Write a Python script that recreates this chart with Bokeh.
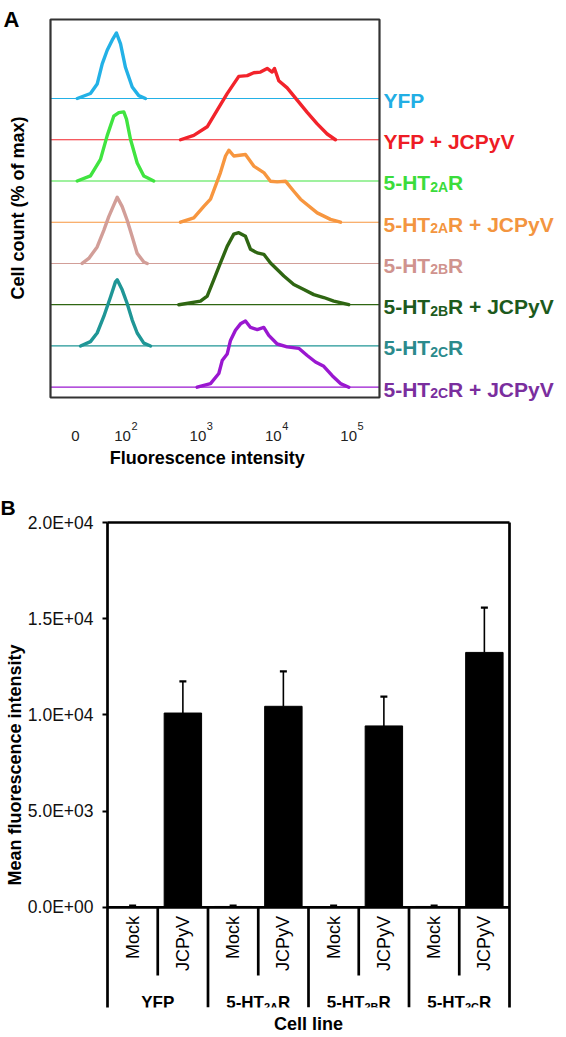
from math import pi
from bokeh.plotting import figure
from bokeh.models import (Range1d, FixedTicker, LinearAxis, Span, Title,
                          ColumnDataSource, Whisker, TeeHead)
from bokeh.embed import file_html
from bokeh.resources import INLINE
from bokeh.core.properties import value

FONT = "Liberation Sans"

# ---------------- Panel A data (x: logicle display position in decades, y: % of max) -------------
yfp_x = [1.357, 1.533, 1.622, 1.689, 1.755, 1.821, 1.878, 1.932, 1.998, 2.087, 2.174, 2.263]
yfp_pct = [0, 7, 20, 48, 67, 81, 91, 76, 43, 16, 4, 0]

yfp_jc_x = [2.728, 2.904, 3.082, 3.215, 3.347, 3.501, 3.613, 3.700, 3.789, 3.878, 3.944, 3.975,
            4.032, 4.143, 4.276, 4.409, 4.542, 4.674, 4.784]
yfp_jc_pct = [0, 6, 18, 41, 64, 88, 89, 93, 94, 99, 94, 99, 82, 72, 55, 38, 22, 8, 0]

ht2a_x = [1.357, 1.533, 1.666, 1.755, 1.842, 1.909, 1.975, 2.011, 2.064, 2.153, 2.241, 2.373]
ht2a_pct = [0, 7, 30, 63, 90, 95, 96, 86, 58, 25, 7, 0]

ht2a_jc_x = [2.728, 2.904, 3.037, 3.126, 3.258, 3.325, 3.369, 3.435, 3.590, 3.700, 3.833, 3.922,
             4.011, 4.121, 4.231, 4.320, 4.542, 4.718, 4.851]
ht2a_jc_pct = [0, 6, 22, 32, 69, 92, 100, 92, 94, 78, 69, 57, 56, 57, 43, 32, 13, 4, 0]

ht2b_x = [1.423, 1.511, 1.622, 1.710, 1.776, 1.842, 1.888, 1.954, 2.020, 2.087, 2.153, 2.241, 2.286]
ht2b_pct = [0, 7, 23, 46, 65, 81, 92, 79, 60, 37, 14, 2, 0]

ht2b_jc_x = [2.705, 2.993, 3.082, 3.170, 3.258, 3.347, 3.435, 3.501, 3.590, 3.657, 3.746, 3.833,
             3.922, 4.011, 4.099, 4.231, 4.364, 4.497, 4.629, 4.762, 4.961]
ht2b_jc_pct = [0, 5, 12, 35, 58, 81, 98, 100, 95, 77, 72, 70, 58, 49, 40, 28, 21, 14, 10, 5, 0]

ht2c_x = [1.401, 1.533, 1.622, 1.710, 1.799, 1.865, 1.888, 1.954, 2.020, 2.087, 2.153, 2.241, 2.330]
ht2c_pct = [0, 6, 18, 41, 68, 89, 92, 78, 59, 36, 18, 4, 0]

ht2c_jc_x = [2.949, 3.126, 3.236, 3.281, 3.347, 3.391, 3.457, 3.524, 3.590, 3.657, 3.746, 3.833,
             3.899, 4.011, 4.143, 4.297, 4.409, 4.519, 4.629, 4.741, 4.851, 4.961]
ht2c_jc_pct = [0, 5, 19, 37, 46, 65, 79, 88, 92, 83, 80, 83, 72, 60, 56, 54, 44, 35, 29, 16, 5, 0]

hist_x = [yfp_x, yfp_jc_x, ht2a_x, ht2a_jc_x, ht2b_x, ht2b_jc_x, ht2c_x, ht2c_jc_x]
hist_pct = [yfp_pct, yfp_jc_pct, ht2a_pct, ht2a_jc_pct, ht2b_pct, ht2b_jc_pct, ht2c_pct, ht2c_jc_pct]

# label parts: (text, is_subscript)
series_labels = [
    [("YFP", False)],
    [("YFP + JCPyV", False)],
    [("5-HT", False), ("2A", True), ("R", False)],
    [("5-HT", False), ("2A", True), ("R + JCPyV", False)],
    [("5-HT", False), ("2B", True), ("R", False)],
    [("5-HT", False), ("2B", True), ("R + JCPyV", False)],
    [("5-HT", False), ("2C", True), ("R", False)],
    [("5-HT", False), ("2C", True), ("R + JCPyV", False)],
]
line_colors = ["#23B1E6", "#F2232B", "#40E440", "#F7963F", "#D29E98", "#2F6612", "#1F9696", "#9A17D0"]
label_colors = ["#22AEE4", "#EE1C25", "#3BDC3B", "#F39540", "#D0938E", "#1D5A1D", "#2B8A8C", "#7A2E9E"]

# x tick positions and labels: (base text, superscript)
xtick_pos = [1.334, 2, 3, 4, 5]
xtick_base = ["0", "10", "10", "10", "10"]
xtick_sup = ["", "2", "3", "4", "5"]

# ---------------- Panel B data ----------------
cell_lines = ["YFP", "5-HT2AR", "5-HT2BR", "5-HT2CR"]
cell_line_parts = [
    [("YFP", False)],
    [("5-HT", False), ("2A", True), ("R", False)],
    [("5-HT", False), ("2B", True), ("R", False)],
    [("5-HT", False), ("2C", True), ("R", False)],
]
treatments = ["Mock", "JCPyV"]
mock_mean = [40, 50, 40, 50]
mock_err = [50, 50, 50, 50]
jcpyv_mean = [10100, 10450, 9430, 13250]
jcpyv_err = [1640, 1810, 1520, 2330]
y_ticks = [0, 5000, 10000, 15000, 20000]
y_tick_labels = ["0.0E+00", "5.0E+03", "1.0E+04", "1.5E+04", "2.0E+04"]

# Arial/Liberation Sans Bold advance widths (em)
BOLD_W = {'5': .556, '-': .333, 'H': .722, 'T': .611, '2': .556, 'A': .722, 'B': .722,
          'C': .722, 'R': .722, ' ': .278, '+': .584, 'J': .556, 'P': .667, 'y': .556,
          'V': .667, 'Y': .667, 'F': .611}


def tw(s, size):
    return sum(BOLD_W.get(c, 0.6) for c in s) * size


# ================= Panel A (one frame covering the whole panel) =================
W = 566
HA = 478
PXX = 75.36                     # px per decade
X0 = 0.3392                     # display value at left edge
STEP = 57.28                    # vertical offset between stacked histograms (% units)
PXY = 0.72                      # px per % unit
Y_TOP = 386.7 / PXY             # % value at top edge
XB0, XB1 = 1.0027, 5.3684       # histogram box (display units)
YB_LO, YB_HI = -14.3, 510.7     # histogram box (% units)

pa = figure(width=W, height=HA,
            x_range=Range1d(X0, X0 + W / PXX), y_range=Range1d(Y_TOP - HA / PXY, Y_TOP),
            output_backend="svg", toolbar_location=None, title=None,
            x_axis_location=None, y_axis_location=None,
            min_border_left=0, min_border_right=0, min_border_top=0, min_border_bottom=0)
pa.grid.visible = False
pa.outline_line_color = None

n = len(hist_x)
for i in range(n):
    off = (n - 1 - i) * STEP
    pa.segment(x0=[XB0], y0=[off], x1=[XB1], y1=[off], line_color=line_colors[i], line_width=1.2)
    pa.line(hist_x[i], [v + off for v in hist_pct[i]], line_color=line_colors[i],
            line_width=3.4, line_join="round", line_cap="round")
    xpx = 4.0
    for txt, sub in series_labels[i]:
        size = 14 if sub else 21
        yy = off - (6.0 if sub else 2.0) / PXY
        pa.text(x=[XB1], y=[yy], text=[txt], x_offset=xpx, text_align="left",
                text_baseline="alphabetic", text_font=value(FONT),
                text_font_size=f"{size}px", text_font_style="bold",
                text_color=label_colors[i])
        xpx += tw(txt, size)

pa.quad(left=[XB0], right=[XB1], bottom=[YB_LO], top=[YB_HI], fill_color=None,
        line_color="#333333", line_width=2.2)

# x tick labels with superscript exponents
TICK_BASE_Y = (386.7 - 435) / PXY
TICK_SUP_Y = (386.7 - 425) / PXY
for pos, base, sup in zip(xtick_pos, xtick_base, xtick_sup):
    wb = 0.556 * 15 * len(base)
    ws = 0.556 * 11 * len(sup)
    start = -(wb + ws) / 2
    pa.text(x=[pos], y=[TICK_BASE_Y], text=[base], x_offset=start, text_align="left",
            text_baseline="alphabetic", text_font=value(FONT), text_font_size="15px",
            text_color="#222222")
    if sup:
        pa.text(x=[pos], y=[TICK_SUP_Y], text=[sup], x_offset=start + wb + 0.5,
                text_align="left", text_baseline="alphabetic", text_font=value(FONT),
                text_font_size="11px", text_color="#222222")

pa.text(x=[206.7 / PXX + X0], y=[(386.7 - 457.7) / PXY], text=["Fluorescence intensity"],
        text_align="center", text_baseline="alphabetic", text_font=value(FONT),
        text_font_size="18px", text_font_style="bold", text_color="black")
pa.text(x=[17.5 / PXX + X0], y=[(386.7 - 207.5) / PXY], text=["Cell count (% of max)"],
        angle=pi / 2, text_align="center", text_baseline="middle", text_font=value(FONT),
        text_font_size="18px", text_font_style="bold", text_color="black")
pa.text(x=[3 / PXX + X0], y=[(386.7 - 19) / PXY], text=["A"], text_align="left",
        text_baseline="alphabetic", text_font=value(FONT), text_font_size="22px",
        text_font_style="bold", text_color="black")

# ================= Panel B =================
HB = 1036 - HA
YB0, YB1 = -5200, 20000
PXB = 0.019285                  # px per unit of fluorescence
pb = figure(width=W, height=HB, x_range=Range1d(-0.5, 7.5), y_range=Range1d(YB0, YB1),
            output_backend="svg", toolbar_location=None,
            title=Title(text="B", align="left", offset=-107, standoff=7,
                        text_font=FONT, text_font_size="21px", text_font_style="bold",
                        text_color="black"),
            min_border_left=107, min_border_right=57, min_border_top=44, min_border_bottom=28)
pb.grid.visible = False
pb.outline_line_color = None

yb = pb.yaxis[0]
yb.ticker = FixedTicker(ticks=y_ticks)
yb.major_label_overrides = dict(zip(y_ticks, y_tick_labels))
yb.axis_line_width = 2.7
yb.axis_line_color = "black"
yb.major_tick_line_width = 2.2
yb.major_tick_line_color = "black"
yb.major_tick_out = 5
yb.major_tick_in = 0
yb.minor_tick_line_color = None
yb.major_label_standoff = 9
yb.major_label_text_font = FONT
yb.major_label_text_font_size = "17.5px"
yb.major_label_text_color = "#111111"
yb.axis_label = "Mean fluorescence intensity"
yb.axis_label_text_font = FONT
yb.axis_label_text_font_style = "bold"
yb.axis_label_text_font_size = "18px"
yb.axis_label_text_color = "black"
yb.axis_label_standoff = 0

xb = pb.xaxis[0]
xb.ticker = FixedTicker(ticks=[])
xb.axis_line_color = None
xb.major_tick_line_color = None
xb.minor_tick_line_color = None
xb.major_label_standoff = 0
xb.axis_label = "Cell line"
xb.axis_label_text_font = FONT
xb.axis_label_text_font_style = "bold"
xb.axis_label_text_font_size = "18px"
xb.axis_label_text_color = "black"
xb.axis_label_standoff = 6

for loc in ("right", "above"):
    ax = LinearAxis(ticker=FixedTicker(ticks=[]), axis_line_width=2.7, axis_line_color="black",
                    major_tick_line_color=None, minor_tick_line_color=None,
                    major_label_standoff=0)
    pb.add_layout(ax, loc)

xs, tops, errs, tlabels = [], [], [], []
for g in range(len(cell_lines)):
    for j, tr in enumerate(treatments):
        xs.append(2 * g + j)
        tops.append(mock_mean[g] if j == 0 else jcpyv_mean[g])
        errs.append(mock_err[g] if j == 0 else jcpyv_err[g])
        tlabels.append(tr)

src = ColumnDataSource(dict(x=xs, top=tops, upper=[t + e for t, e in zip(tops, errs)]))
pb.vbar(x="x", top="top", bottom=0, width=0.745, source=src, fill_color="black",
        line_color="black")
pb.add_layout(Whisker(source=src, base="x", lower="top", upper="upper", dimension="height",
                      line_width=1.6, line_color="black", lower_head=None,
                      upper_head=TeeHead(size=7, line_width=2.2, line_color="black")))

pb.add_layout(Span(location=0, dimension="width", line_color="black", line_width=2.7))

short_x = [2 * g + 0.5 for g in range(len(cell_lines))]
long_x = [2 * g + 1.5 for g in range(len(cell_lines) - 1)]
pb.segment(x0=short_x, y0=[0] * len(short_x), x1=short_x, y1=[-3540] * len(short_x),
           line_color="black", line_width=2.7)
pb.segment(x0=long_x, y0=[0] * len(long_x), x1=long_x, y1=[YB0] * len(long_x),
           line_color="black", line_width=2.7)

pb.text(x=xs, y=[-450] * len(xs), text=tlabels, angle=pi / 2, text_align="right",
        text_baseline="middle", text_font=value(FONT), text_font_size="18px",
        text_color="black")

GY = -4960
for g, parts in enumerate(cell_line_parts):
    sizes = [11 if sub else 17 for _, sub in parts]
    total = sum(tw(t, s) for (t, _), s in zip(parts, sizes))
    xpx = -total / 2
    for (txt, sub), size in zip(parts, sizes):
        yy = GY - (3.7 / PXB if sub else 0)
        pb.text(x=[2 * g + 0.5], y=[yy], text=[txt], x_offset=xpx, text_align="left",
                text_baseline="alphabetic", text_font=value(FONT),
                text_font_size=f"{size}px", text_font_style="bold", text_color="black")
        xpx += tw(txt, size)

open("out.html", "w").write(file_html([pa, pb], INLINE))
